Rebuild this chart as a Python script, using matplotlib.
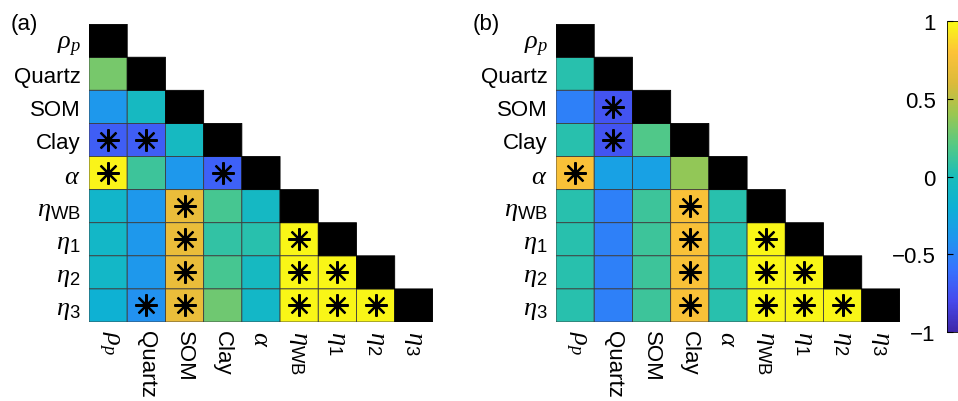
import matplotlib
matplotlib.use('Agg')
import matplotlib.pyplot as plt
import numpy as np
from matplotlib.colors import LinearSegmentedColormap, ListedColormap

plt.rcParams['font.family'] = ['Liberation Sans', 'DejaVu Sans']
plt.rcParams['mathtext.fontset'] = 'custom'
plt.rcParams['mathtext.rm'] = 'Liberation Sans'
plt.rcParams['mathtext.it'] = 'Liberation Serif:italic'

# Data
variables = [r'$\rho_p$', 'Quartz', 'SOM', 'Clay', r'$\alpha$',
             r'$\eta_{\mathrm{WB}}$', r'$\eta_1$', r'$\eta_2$', r'$\eta_3$']

# lower triangle, row by row (row i holds correlations with columns 0..i-1)
corr_a = [
    [0.30],
    [-0.38, -0.05],
    [-0.70, -0.70, -0.05],
    [0.97, 0.12, -0.38, -0.68],
    [-0.12, -0.38, 0.68, 0.15, -0.07],
    [-0.10, -0.38, 0.68, 0.08, 0.05, 0.98],
    [-0.10, -0.38, 0.68, 0.15, -0.05, 0.98, 0.98],
    [-0.18, -0.42, 0.68, 0.28, -0.10, 0.98, 0.98, 0.98],
]
signif_a = [
    [0],
    [0, 0],
    [1, 1, 0],
    [1, 0, 0, 1],
    [0, 0, 1, 0, 0],
    [0, 0, 1, 0, 0, 1],
    [0, 0, 1, 0, 0, 1, 1],
    [0, 1, 1, 0, 0, 1, 1, 1],
]

corr_b = [
    [0.05],
    [-0.52, -0.75],
    [0.05, -0.75, 0.18],
    [0.78, -0.32, -0.32, 0.38],
    [0.05, -0.52, 0.12, 0.78, 0.05],
    [0.05, -0.52, 0.12, 0.78, 0.05, 0.98],
    [0.05, -0.52, 0.12, 0.78, 0.05, 0.98, 0.98],
    [0.05, -0.52, 0.12, 0.78, 0.05, 0.98, 0.98, 0.98],
]
signif_b = [
    [0],
    [0, 1],
    [0, 1, 0],
    [1, 0, 0, 0],
    [0, 0, 0, 1, 0],
    [0, 0, 0, 1, 0, 1],
    [0, 0, 0, 1, 0, 1, 1],
    [0, 0, 0, 1, 0, 1, 1, 1],
]

# approximate MATLAB parula
parula = LinearSegmentedColormap.from_list('parula', [
    (0.2422, 0.1504, 0.6603), (0.2781, 0.2885, 0.9288), (0.2161, 0.4487, 0.9964),
    (0.1247, 0.5871, 0.9349), (0.0504, 0.6904, 0.8337), (0.1000, 0.7400, 0.7300),
    (0.3300, 0.7880, 0.5200), (0.6000, 0.7800, 0.3200), (0.8600, 0.7300, 0.2300),
    (0.9900, 0.7600, 0.2200), (0.9769, 0.9839, 0.0805)], N=256)

n = len(variables)


def build(rows):
    m = np.full((n, n), np.nan)
    for i, row in enumerate(rows, start=1):
        m[i, :len(row)] = row
    return m


def draw(ax, rows, sig):
    m = build(rows)
    edges = np.arange(n + 1)
    mesh = ax.pcolor(edges, edges, np.ma.masked_invalid(m), cmap=parula, vmin=-1, vmax=1,
                     edgecolors='#3c3c3c', linewidth=0.6)
    diag = np.full((n, n), np.nan)
    np.fill_diagonal(diag, 1)
    ax.pcolor(edges, edges, np.ma.masked_invalid(diag),
              cmap=ListedColormap(['black']), edgecolors='black', linewidth=0.6)
    for i, row in enumerate(sig, start=1):
        for j, s in enumerate(row):
            if s:
                ax.plot(j + 0.5, i + 0.5, marker=(8, 2, 0), color='black',
                        markersize=16, markeredgewidth=1.6)
    ax.set_xlim(0, n)
    ax.set_ylim(n, 0)
    ax.set_xticks(np.arange(n) + 0.5)
    ax.set_yticks(np.arange(n) + 0.5)
    ax.set_xticklabels(variables, rotation=-90, ha='center', va='top', fontsize=16)
    ax.set_yticklabels(variables, fontsize=16)
    # greek labels look bigger in the original
    for lab in ax.get_xticklabels() + ax.get_yticklabels():
        if lab.get_text().startswith('$'):
            lab.set_fontsize(19)
    ax.tick_params(length=0, pad=6)
    for s in ax.spines.values():
        s.set_visible(False)
    return mesh


fig = plt.figure(figsize=(9.58, 4.02), dpi=100)
ax1 = fig.add_axes([0.0929, 0.1965, 0.359, 0.741])
ax2 = fig.add_axes([0.5804, 0.1965, 0.359, 0.741])
draw(ax1, corr_a, signif_a)
mesh = draw(ax2, corr_b, signif_b)

fig.text(0.011, 0.965, '(a)', fontsize=16, va='top', ha='left')
fig.text(0.493, 0.965, '(b)', fontsize=16, va='top', ha='left')

cax = fig.add_axes([0.9885, 0.1716, 0.02, 0.7736])
cb = fig.colorbar(mesh, cax=cax, ticks=[-1, -0.5, 0, 0.5, 1])
cb.ax.yaxis.set_ticks_position('left')
cb.ax.set_yticklabels(['\u22121', '\u22120.5', '0', '0.5', '1'])
cb.ax.tick_params(direction='in', length=4, labelsize=16, pad=8)
cb.outline.set_linewidth(0.6)

fig.savefig('out.png', dpi=100)
